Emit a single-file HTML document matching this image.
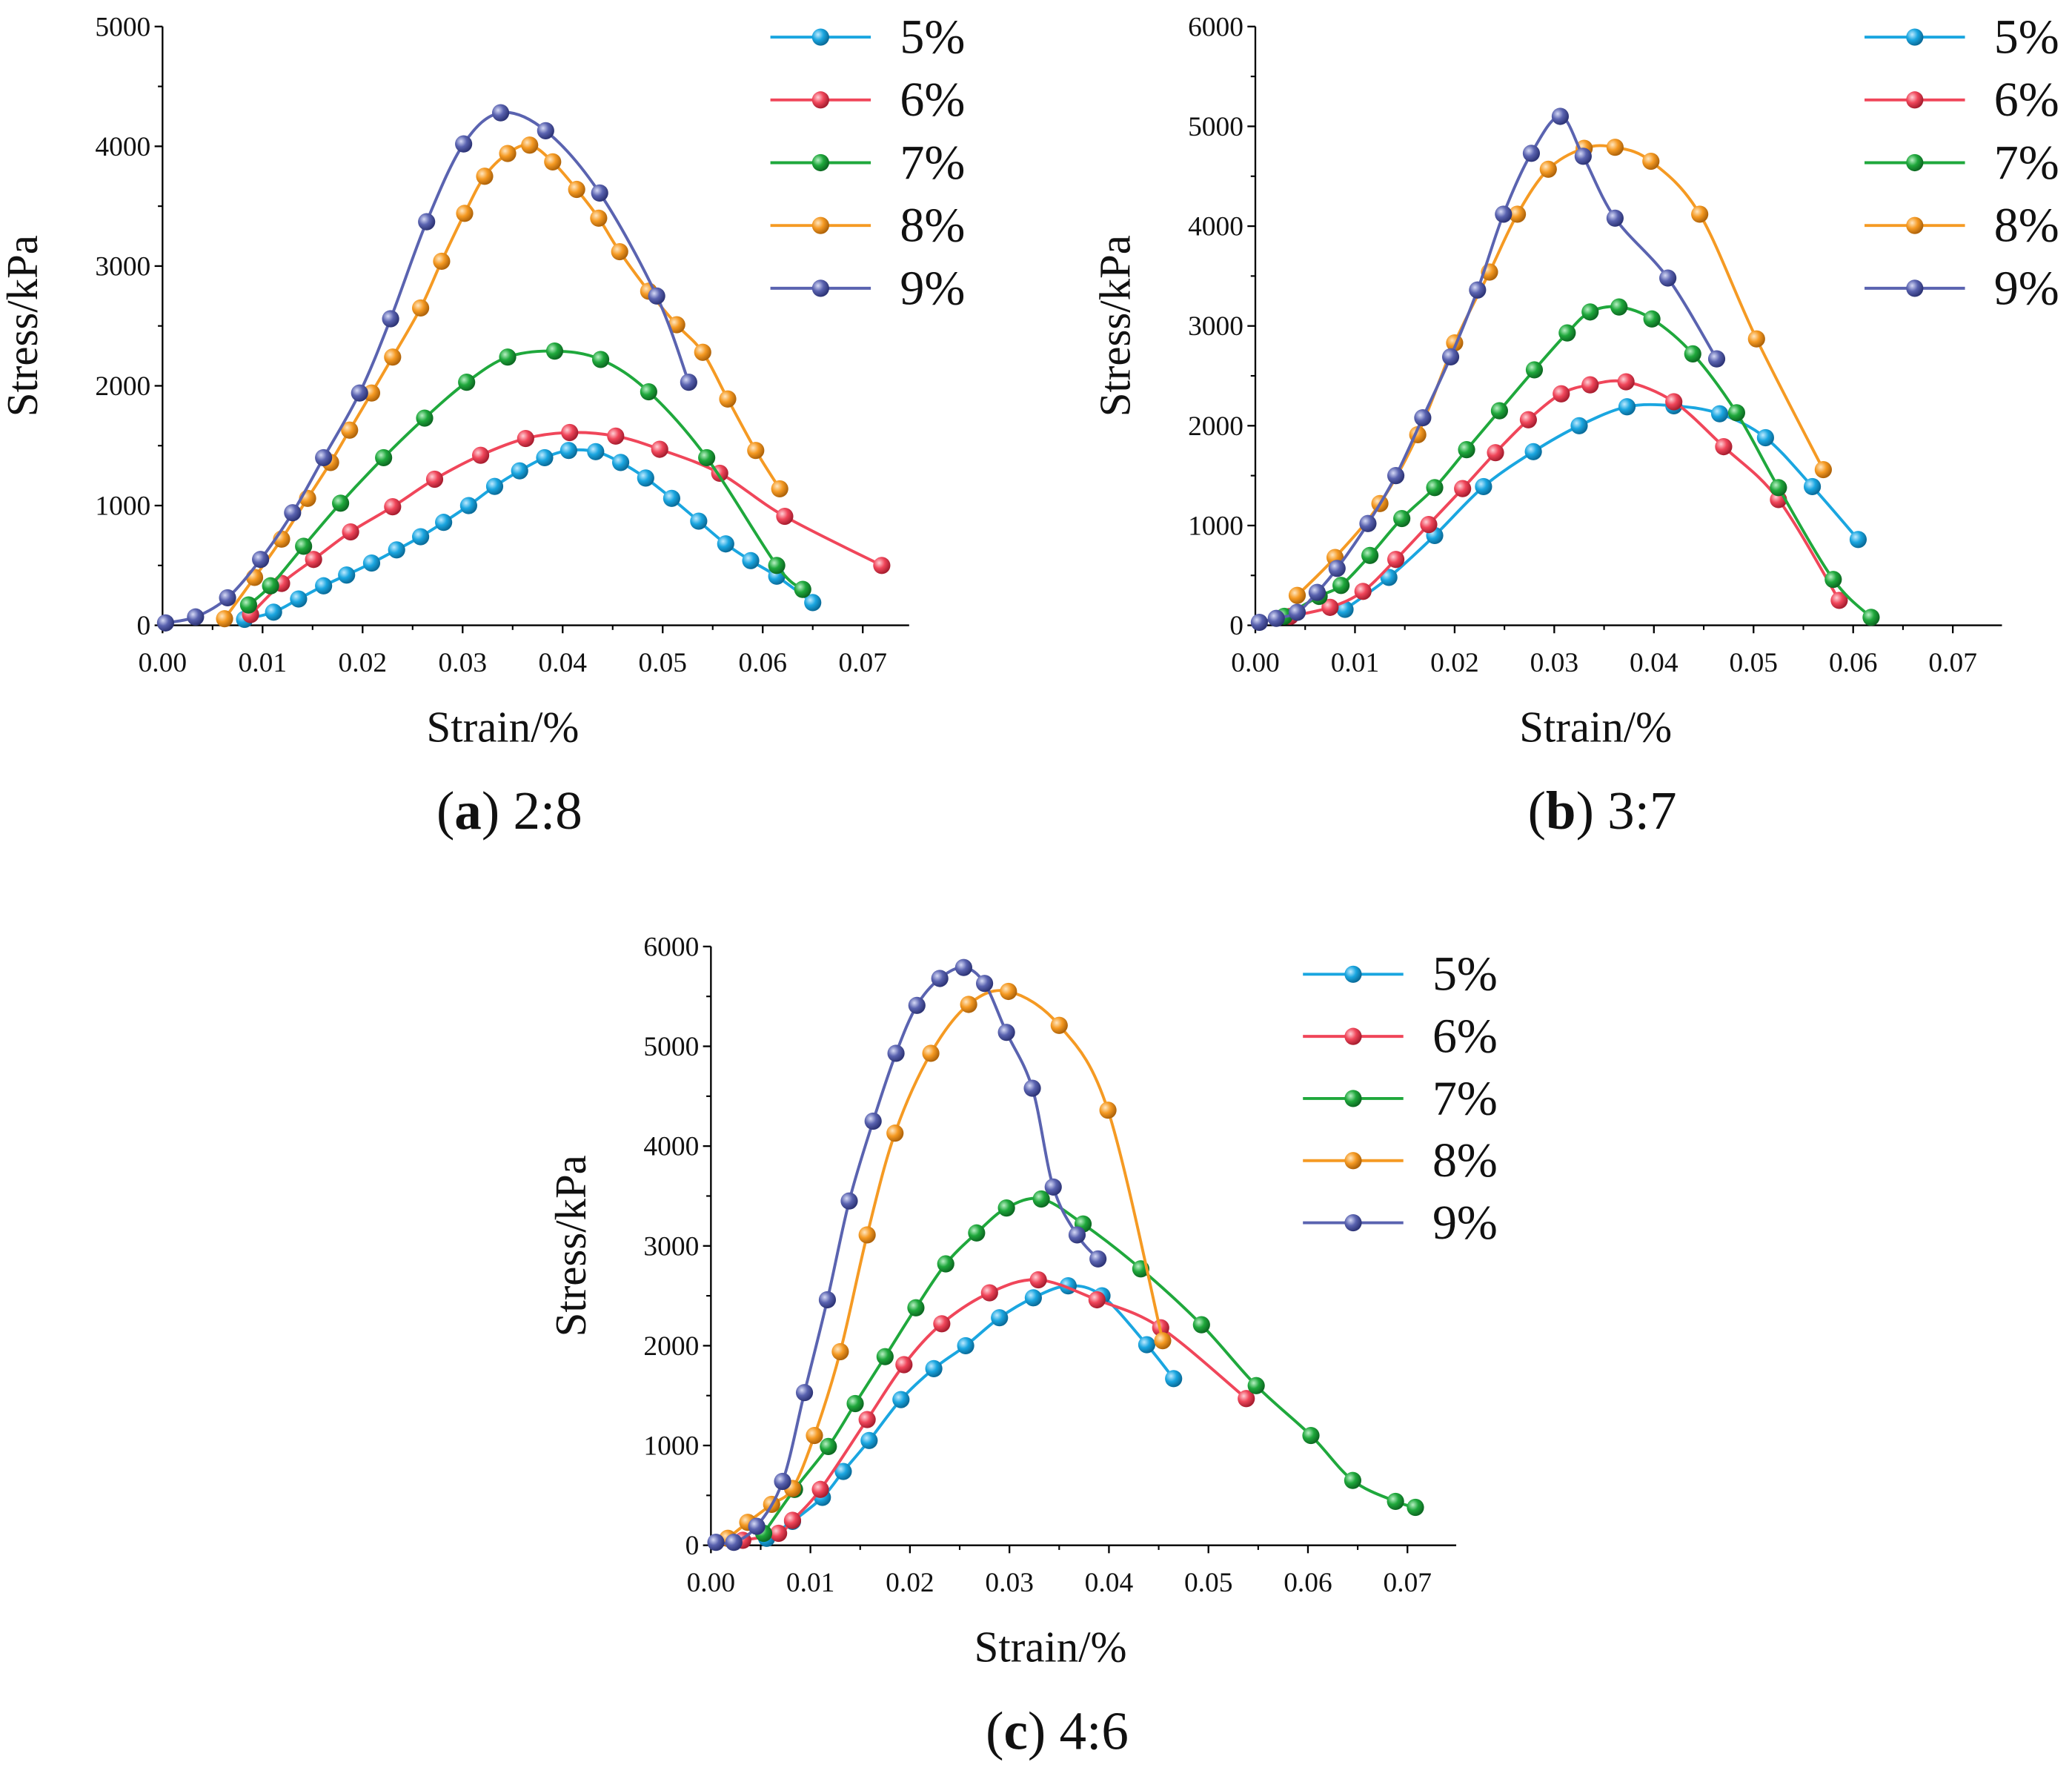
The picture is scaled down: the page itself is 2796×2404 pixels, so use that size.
<!DOCTYPE html>
<html><head><meta charset="utf-8"><style>
html,body{margin:0;padding:0;background:#fff}
svg{display:block}
text{font-family:"Liberation Serif",serif;fill:#111}
</style></head><body>
<svg id="fig" width="2796" height="2404" viewBox="0 0 1568 1348" xmlns="http://www.w3.org/2000/svg">
<defs>
<radialGradient id="g0" cx="35%" cy="35%" r="65%"><stop offset="0" stop-color="#bfeaff"/><stop offset="0.5" stop-color="#1aa6e0"/><stop offset="1" stop-color="#0a6c9a"/></radialGradient>
<radialGradient id="g1" cx="35%" cy="35%" r="65%"><stop offset="0" stop-color="#ffd0d6"/><stop offset="0.5" stop-color="#f0465a"/><stop offset="1" stop-color="#a81e30"/></radialGradient>
<radialGradient id="g2" cx="35%" cy="35%" r="65%"><stop offset="0" stop-color="#b8f0c4"/><stop offset="0.5" stop-color="#1fa83c"/><stop offset="1" stop-color="#0d6a22"/></radialGradient>
<radialGradient id="g3" cx="35%" cy="35%" r="65%"><stop offset="0" stop-color="#ffe6c0"/><stop offset="0.5" stop-color="#f59a23"/><stop offset="1" stop-color="#b0640a"/></radialGradient>
<radialGradient id="g4" cx="35%" cy="35%" r="65%"><stop offset="0" stop-color="#d6daf6"/><stop offset="0.5" stop-color="#5a63b0"/><stop offset="1" stop-color="#2e3577"/></radialGradient>
</defs>
</svg>
<script>
const seriesNames = ["5%","6%","7%","8%","9%"];
const colors = ["#1aa6e0","#f0465a","#1fa83c","#f59a23","#5a63b0"];
const xTicks = [0,0.01,0.02,0.03,0.04,0.05,0.06,0.07];

// Chart a (2:8)
const a5x=[.0082,.0111,.0136,.0161,.0184,.0209,.0234,.0258,.0281,.0306,.0332,.0357,.0382,.0406,.0433,.0458,.0483,.0509,.0536,.0563,.0588,.0614,.065];
const a5y=[50,110,220,330,420,520,630,740,860,1000,1160,1290,1400,1460,1450,1360,1230,1060,870,680,540,410,190];
const a6x=[.0088,.0119,.0151,.0188,.023,.0272,.0318,.0363,.0407,.0453,.0497,.0557,.0622,.0719];
const a6y=[90,350,550,780,990,1220,1420,1560,1610,1580,1470,1270,910,500];
const a7x=[.0086,.0108,.0141,.0178,.0221,.0262,.0304,.0345,.0392,.0438,.0486,.0544,.0614,.064];
const a7y=[170,330,660,1020,1400,1730,2030,2240,2290,2220,1950,1400,500,300];
const a8x=[.0062,.0092,.0119,.0145,.0168,.0187,.0209,.023,.0258,.0279,.0302,.0322,.0345,.0367,.039,.0414,.0436,.0457,.0486,.0514,.054,.0565,.0593,.0617];
const a8y=[55,400,720,1060,1360,1630,1940,2240,2650,3040,3440,3750,3940,4010,3870,3640,3400,3120,2790,2510,2280,1890,1460,1140];
const a9x=[.0003,.0033,.0065,.0098,.013,.0161,.0197,.0228,.0264,.0301,.0338,.0383,.0437,.0494,.0526];
const a9y=[20,70,230,550,940,1400,1940,2560,3370,4020,4280,4130,3610,2750,2030];
const aYTicks=[0,1000,2000,3000,4000,5000];

// Chart b (3:7)
const b5x=[.009,.0134,.018,.0229,.0279,.0325,.0373,.042,.0466,.0512,.0559,.0605];
const b5y=[160,480,900,1390,1740,2000,2190,2200,2120,1880,1390,860];
const b6x=[.0035,.0075,.0108,.0141,.0174,.0208,.0241,.0274,.0307,.0336,.0372,.042,.047,.0525,.0586];
const b6y=[90,180,340,660,1010,1370,1730,2060,2320,2410,2440,2240,1790,1260,250];
const b7x=[.0029,.0064,.0086,.0115,.0147,.018,.0212,.0245,.028,.0313,.0336,.0365,.0398,.0439,.0483,.0525,.058,.0618];
const b7y=[90,290,400,700,1070,1380,1760,2150,2560,2930,3140,3190,3070,2720,2130,1380,460,80];
const b8x=[.0042,.008,.0125,.0163,.02,.0235,.0263,.0294,.033,.0361,.0397,.0446,.0503,.057];
const b8y=[300,680,1220,1910,2830,3540,4120,4570,4780,4790,4650,4120,2870,1560];
const b9x=[.0004,.0021,.0042,.0062,.0082,.0113,.0141,.0168,.0196,.0223,.0249,.0277,.0306,.0329,.0361,.0414,.0463];
const b9y=[30,70,130,330,570,1020,1500,2080,2690,3360,4120,4730,5100,4700,4080,3480,2670];
const bYTicks=[0,1000,2000,3000,4000,5000,6000];

// Chart c (4:6)
const c5x=[.0056,.0082,.0112,.0133,.0159,.0191,.0224,.0256,.029,.0324,.0359,.0393,.0438,.0465];
const c5y=[70,240,480,740,1050,1460,1770,2000,2280,2480,2600,2500,2010,1670];
const c6x=[.0032,.0068,.0082,.011,.0157,.0194,.0232,.028,.0329,.0388,.0452,.0538];
const c6y=[50,120,250,560,1260,1810,2220,2530,2660,2460,2180,1470];
const c7x=[.0053,.0084,.0118,.0145,.0175,.0206,.0236,.0267,.0297,.0332,.0374,.0432,.0493,.0548,.0603,.0645,.0688,.0708];
const c7y=[120,560,990,1420,1890,2380,2820,3130,3380,3470,3220,2770,2210,1600,1100,650,440,380];
const c8x=[.0017,.0037,.0061,.0082,.0104,.013,.0157,.0185,.0221,.0259,.0299,.035,.0399,.0454];
const c8y=[70,230,410,570,1100,1940,3110,4130,4930,5420,5550,5210,4360,2050];
const c9x=[.0005,.0023,.0046,.0072,.0094,.0117,.0139,.0163,.0186,.0207,.023,.0254,.0275,.0297,.0323,.0344,.0368,.0389];
const c9y=[30,30,190,640,1530,2460,3450,4250,4930,5410,5680,5790,5630,5140,4580,3590,3110,2870];
const cYTicks=[0,1000,2000,3000,4000,5000,6000];

const NS="http://www.w3.org/2000/svg";
const svg=document.getElementById('fig');
function el(tag,attrs,parent,txt){const e=document.createElementNS(NS,tag);for(const k in attrs)e.setAttribute(k,attrs[k]);if(txt!==undefined)e.textContent=txt;(parent||svg).appendChild(e);return e;}

function spline(pts){
  let d="M"+pts[0][0]+","+pts[0][1];
  for(let i=0;i<pts.length-1;i++){
    const p0=pts[i-1]||pts[i],p1=pts[i],p2=pts[i+1],p3=pts[i+2]||p2;
    const c1=[p1[0]+(p2[0]-p0[0])/6,p1[1]+(p2[1]-p0[1])/6];
    const c2=[p2[0]-(p3[0]-p1[0])/6,p2[1]-(p3[1]-p1[1])/6];
    d+=" C"+c1[0]+","+c1[1]+" "+c2[0]+","+c2[1]+" "+p2[0]+","+p2[1];
  }
  return d;
}

function chart(cfg){
  const g=el('g',{});
  
  
  const X=v=>cfg.x0+v*cfg.sx, Y=v=>cfg.y0-v*cfg.sy;
  const yTop=Y(cfg.yTicks[cfg.yTicks.length-1]);
  const ax=el('path',{d:`M${cfg.x0},${yTop} V${cfg.y0} H${cfg.xEnd}`,stroke:'#000','stroke-width':1.3,fill:'none'},g);
  
  
  xTicks.forEach(t=>{
    el('line',{x1:X(t),x2:X(t),y1:cfg.y0,y2:cfg.y0+6,stroke:'#000','stroke-width':1.3},g);
    const tl=el('text',{x:X(t),y:cfg.y0+35,'text-anchor':'middle','font-size':21},g,t.toFixed(2));
    
    
  });
  for(let i=0;i<xTicks.length-1;i++){const m=(xTicks[i]+xTicks[i+1])/2;el('line',{x1:X(m),x2:X(m),y1:cfg.y0,y2:cfg.y0+3.5,stroke:'#000','stroke-width':1.2},g);}
  cfg.yTicks.forEach((t,i)=>{
    el('line',{x1:cfg.x0-6,x2:cfg.x0,y1:Y(t),y2:Y(t),stroke:'#000','stroke-width':1.3},g);
    if(i<cfg.yTicks.length-1){const m=t+(cfg.yTicks[1]-cfg.yTicks[0])/2;el('line',{x1:cfg.x0-3.5,x2:cfg.x0,y1:Y(m),y2:Y(m),stroke:'#000','stroke-width':1.2},g);}
    const tl=el('text',{x:cfg.x0-9,y:Y(t)+7,'text-anchor':'end','font-size':21},g,String(t));
    
    
  });
  const yt=el('text',{x:0,y:0,transform:`translate(${cfg.x0-95},${(cfg.y0+yTop)/2}) rotate(-90)`,'text-anchor':'middle','font-size':33},g,'Stress/kPa');
  
  
  const xt=el('text',{x:(cfg.x0+cfg.xEnd)/2-25,y:cfg.y0+88,'text-anchor':'middle','font-size':33},g,'Strain/%');
  
  
  const cap=el('text',{x:(cfg.x0+cfg.xEnd)/2-20,y:cfg.y0+154,'text-anchor':'middle','font-size':41},g);
  
  
  el('tspan',{},cap,'(');el('tspan',{'font-weight':'bold'},cap,cfg.letter);el('tspan',{},cap,') '+cfg.ratio);
  cfg.series.forEach((s,k)=>{
    const pts=s[0].map((v,i)=>[X(v),Y(s[1][i])]);
    const p=el('path',{d:spline(pts),stroke:colors[k],'stroke-width':2.2,fill:'none'},g);
    
    
    pts.forEach(q=>{
      const c=el('circle',{cx:q[0],cy:q[1],r:6.5,fill:`url(#g${k})`},g);
      
      
    });
    const ly=cfg.legY+k*cfg.legDy;
    const lg=el('g',{},g);
    
    
    el('line',{x1:cfg.legX,x2:cfg.legX+76,y1:ly,y2:ly,stroke:colors[k],'stroke-width':2.2},lg);
    el('circle',{cx:cfg.legX+38,cy:ly,r:6.5,fill:`url(#g${k})`},lg);
    el('text',{x:cfg.legX+98,y:ly+12,'font-size':37},lg,seriesNames[k]);
  });
}

chart({name:'chart-a',letter:'a',ratio:'2:8',x0:123,sx:7570,xEnd:688,y0:473,sy:0.0906,yTicks:aYTicks,legX:583,legY:28,legDy:47.5,
  series:[[a5x,a5y],[a6x,a6y],[a7x,a7y],[a8x,a8y],[a9x,a9y]]});
chart({name:'chart-b',letter:'b',ratio:'3:7',x0:950,sx:7540,xEnd:1515,y0:473,sy:0.0755,yTicks:bYTicks,legX:1411,legY:28,legDy:47.5,
  series:[[b5x,b5y],[b6x,b6y],[b7x,b7y],[b8x,b8y],[b9x,b9y]]});
chart({name:'chart-c',letter:'c',ratio:'4:6',x0:538,sx:7530,xEnd:1102,y0:1169,sy:0.0755,yTicks:cYTicks,legX:986,legY:737,legDy:47,
  series:[[c5x,c5y],[c6x,c6y],[c7x,c7y],[c8x,c8y],[c9x,c9y]]});
</script>
</body></html>
